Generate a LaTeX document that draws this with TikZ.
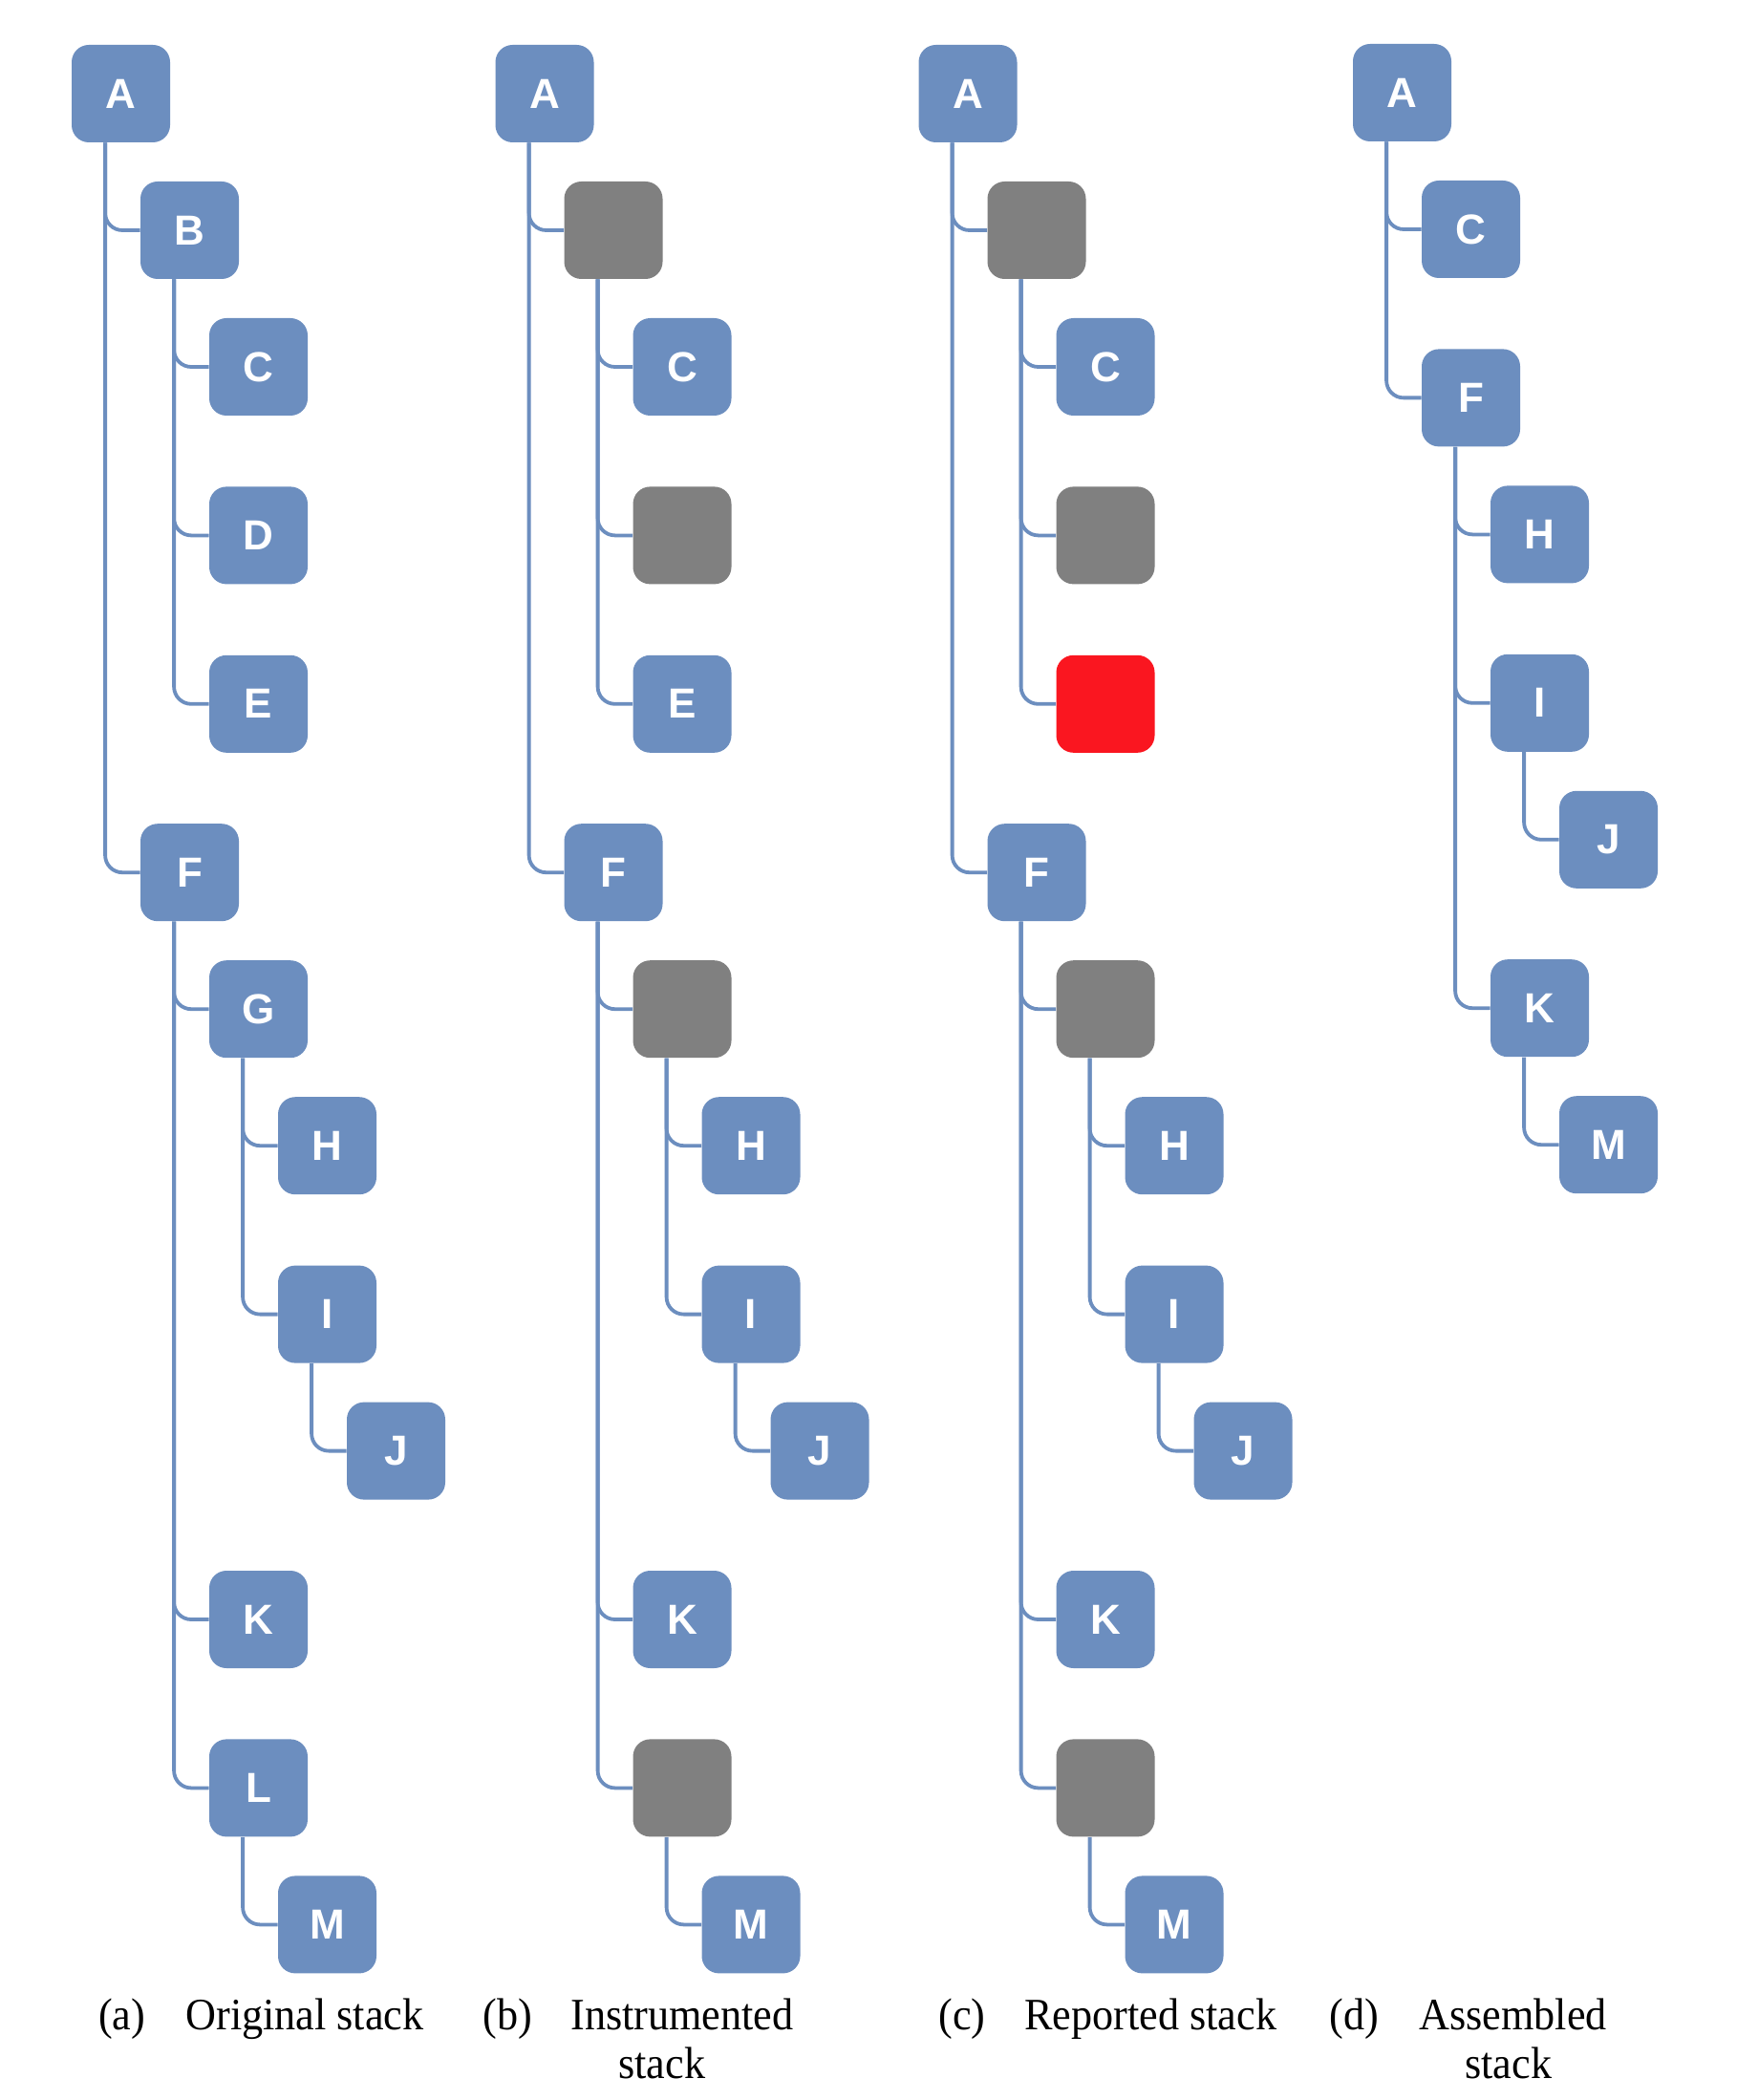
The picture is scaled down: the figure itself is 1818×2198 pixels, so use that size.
\documentclass[tikz,border=0pt]{standalone}
\usepackage{fontspec}
\setmainfont{Liberation Serif}
\newfontfamily\labfont{Liberation Sans}
\newfontfamily\capfont{Liberation Serif}[FakeStretch=0.94]
\definecolor{nodeblue}{RGB}{108,142,191}
\definecolor{nodegray}{RGB}{128,128,128}
\definecolor{nodered}{RGB}{250,22,32}
\tikzset{
  box/.style={rounded corners=9pt, minimum width=51.5pt, minimum height=51pt, inner sep=0pt,
    text=white, font=\labfont\bfseries\fontsize{22}{22}\selectfont},
  bl/.style={box, fill=nodeblue},
  gr/.style={box, fill=nodegray},
  rd/.style={box, fill=nodered},
  conn/.style={draw=nodeblue, line width=1.9pt, rounded corners=9pt},
  captext/.style={anchor=base west, inner sep=0pt, font=\capfont\fontsize{23.5}{25}\selectfont}
}
\newcommand\link[2]{\draw[conn] ([xshift=17.75pt]#1.south west) |- (#2.west);}
\begin{document}
\begin{tikzpicture}[x=0.5pt,y=-0.5pt]
\useasboundingbox (0,0) rectangle (1818,2198);
% ---------- (a) ----------
\node[bl] (aA) at (126.5,98) {A};
\node[bl] (aB) at (198.5,241) {B};
\node[bl] (aC) at (270.5,384) {C};
\node[bl] (aD) at (270.5,560.4) {D};
\node[bl] (aE) at (270.5,736.8) {E};
\node[bl] (aF) at (198.5,913.2) {F};
\node[bl] (aG) at (270.5,1056.2) {G};
\node[bl] (aH) at (342.5,1199.2) {H};
\node[bl] (aI) at (342.5,1375.6) {I};
\node[bl] (aJ) at (414.5,1518.6) {J};
\node[bl] (aK) at (270.5,1695) {K};
\node[bl] (aL) at (270.5,1871.4) {L};
\node[bl] (aM) at (342.5,2014.4) {M};
\link{aA}{aF}\link{aA}{aB}
\link{aB}{aE}\link{aB}{aD}\link{aB}{aC}
\link{aF}{aL}\link{aF}{aK}\link{aF}{aG}
\link{aG}{aI}\link{aG}{aH}
\link{aI}{aJ}\link{aL}{aM}
% ---------- (b) ----------
\begin{scope}[shift={(443.5,0)}]
\node[bl] (bA) at (126.5,98) {A};
\node[gr] (bB) at (198.5,241) {};
\node[bl] (bC) at (270.5,384) {C};
\node[gr] (bD) at (270.5,560.4) {};
\node[bl] (bE) at (270.5,736.8) {E};
\node[bl] (bF) at (198.5,913.2) {F};
\node[gr] (bG) at (270.5,1056.2) {};
\node[bl] (bH) at (342.5,1199.2) {H};
\node[bl] (bI) at (342.5,1375.6) {I};
\node[bl] (bJ) at (414.5,1518.6) {J};
\node[bl] (bK) at (270.5,1695) {K};
\node[gr] (bL) at (270.5,1871.4) {};
\node[bl] (bM) at (342.5,2014.4) {M};
\end{scope}
\link{bA}{bF}\link{bA}{bB}
\link{bB}{bE}\link{bB}{bD}\link{bB}{bC}
\link{bF}{bL}\link{bF}{bK}\link{bF}{bG}
\link{bG}{bI}\link{bG}{bH}
\link{bI}{bJ}\link{bL}{bM}
% ---------- (c) ----------
\begin{scope}[shift={(886.5,0)}]
\node[bl] (cA) at (126.5,98) {A};
\node[gr] (cB) at (198.5,241) {};
\node[bl] (cC) at (270.5,384) {C};
\node[gr] (cD) at (270.5,560.4) {};
\node[rd] (cE) at (270.5,736.8) {};
\node[bl] (cF) at (198.5,913.2) {F};
\node[gr] (cG) at (270.5,1056.2) {};
\node[bl] (cH) at (342.5,1199.2) {H};
\node[bl] (cI) at (342.5,1375.6) {I};
\node[bl] (cJ) at (414.5,1518.6) {J};
\node[bl] (cK) at (270.5,1695) {K};
\node[gr] (cL) at (270.5,1871.4) {};
\node[bl] (cM) at (342.5,2014.4) {M};
\end{scope}
\link{cA}{cF}\link{cA}{cB}
\link{cB}{cE}\link{cB}{cD}\link{cB}{cC}
\link{cF}{cL}\link{cF}{cK}\link{cF}{cG}
\link{cG}{cI}\link{cG}{cH}
\link{cI}{cJ}\link{cL}{cM}
% ---------- (d) ----------
\begin{scope}[shift={(1341,0)}]
\node[bl] (dA) at (126.5,97) {A};
\node[bl] (dC) at (198.5,240) {C};
\node[bl] (dF) at (198.5,416.4) {F};
\node[bl] (dH) at (270.5,559.4) {H};
\node[bl] (dI) at (270.5,735.8) {I};
\node[bl] (dJ) at (342.5,878.8) {J};
\node[bl] (dK) at (270.5,1055.2) {K};
\node[bl] (dM) at (342.5,1198.2) {M};
\end{scope}
\link{dA}{dF}\link{dA}{dC}
\link{dF}{dK}\link{dF}{dI}\link{dF}{dH}
\link{dI}{dJ}\link{dK}{dM}
% ---------- captions ----------
\node[captext] (ca1) at (102.7,2124) {(a)};
\node[captext] (ca2) at (194,2124) {Original stack};
\node[captext] (cb1) at (505,2124) {(b)};
\node[captext] (cb2) at (597,2124) {Instrumented};
\node[captext] (cb3) at (647,2175) {stack};
\node[captext] (cc1) at (982,2124) {(c)};
\node[captext] (cc2) at (1072,2124) {Reported stack};
\node[captext] (cd1) at (1391,2124) {(d)};
\node[captext] (cd2) at (1485,2124) {Assembled};
\node[captext] (cd3) at (1533,2175) {stack};
\end{tikzpicture}
\end{document}
